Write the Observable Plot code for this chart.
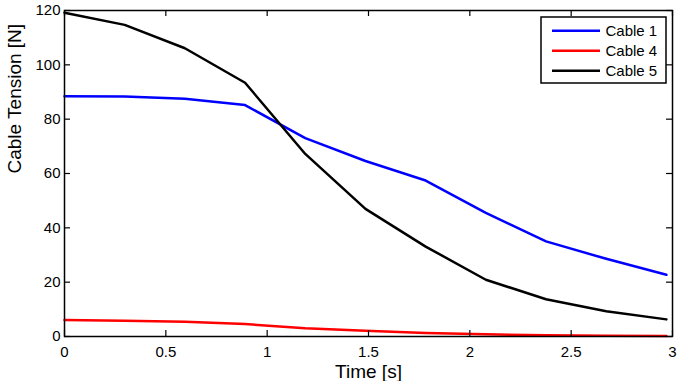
<!DOCTYPE html>
<html>
<head>
<meta charset="utf-8">
<script src="https://cdn.jsdelivr.net/npm/d3@7"></script>
<script src="https://cdn.jsdelivr.net/npm/@observablehq/plot@0.6"></script>
<style>
  html, body { margin: 0; padding: 0; background: #fff; }
  #chart { width: 681px; height: 381px; }
</style>
</head>
<body>
<div id="chart"></div>
<script>
// Sample times [s]
const time = [0, 0.297, 0.594, 0.891, 1.188, 1.485, 1.782, 2.079, 2.376, 2.673, 2.97];

// Cable tensions [N]
const cable1 = [88.4, 88.3, 87.5, 85.2, 73.0, 64.6, 57.4, 45.5, 35.0, 28.6, 22.7];
const cable4 = [6.1, 5.8, 5.4, 4.6, 3.0, 2.1, 1.3, 0.8, 0.45, 0.25, 0.15];
const cable5 = [119.2, 114.7, 106.1, 93.4, 67.2, 47.0, 33.1, 20.9, 13.7, 9.3, 6.3];

const seriesNames = ["Cable 1", "Cable 4", "Cable 5"];
const seriesColors = ["#0000ff", "#ff0000", "#000000"];
const seriesValues = [cable1, cable4, cable5];

const xTicks = [0, 0.5, 1, 1.5, 2, 2.5, 3];
const yTicks = [0, 20, 40, 60, 80, 100, 120];

const rows = seriesNames.flatMap((name, s) =>
  time.map((t, i) => ({series: name, t, v: seriesValues[s][i]}))
);

const W = 681, H = 381;
const M = {left: 64, right: 9, top: 10, bottom: 45};
const tickLen = 6;
const font = "'Liberation Sans', Arial, Helvetica, sans-serif";

const chart = Plot.plot({
  width: W,
  height: H,
  marginLeft: M.left,
  marginRight: M.right,
  marginTop: M.top,
  marginBottom: M.bottom,
  style: {fontFamily: font, fontSize: "15px", color: "#000", background: "#fff", overflow: "visible"},
  x: {domain: [0, 3], label: null},
  y: {domain: [0, 120], label: null},
  color: {domain: seriesNames, range: seriesColors},
  marks: [
    Plot.axisX(xTicks, {tickSize: 0, tickPadding: 10, fontSize: 15, tickFormat: d => String(d), label: null}),
    Plot.axisY(yTicks, {tickSize: 0, tickPadding: 4, fontSize: 15, tickFormat: d => String(d), label: null}),
    Plot.line(rows, {x: "t", y: "v", z: "series", stroke: "series", strokeWidth: 2.5, strokeLinejoin: "round"}),
    Plot.frame({stroke: "#000", strokeWidth: 1.5}),
    // inward ticks on all four sides
    Plot.ruleX(xTicks, {x: d => d, y1: 0, y2: 0, insetTop: -tickLen, stroke: "#000", strokeWidth: 1.2}),
    Plot.ruleX(xTicks, {x: d => d, y1: 120, y2: 120, insetBottom: -tickLen, stroke: "#000", strokeWidth: 1.2}),
    Plot.ruleY(yTicks, {y: d => d, x1: 0, x2: 0, insetRight: -tickLen, stroke: "#000", strokeWidth: 1.2}),
    Plot.ruleY(yTicks, {y: d => d, x1: 3, x2: 3, insetLeft: -tickLen, stroke: "#000", strokeWidth: 1.2}),
    // axis titles
    Plot.text(["Time [s]"], {frameAnchor: "bottom", dy: 35, fontSize: 19, lineAnchor: "middle", fill: "#000"}),
    Plot.text(["Cable Tension [N]"], {frameAnchor: "left", dx: -50, rotate: -90, fontSize: 19, lineAnchor: "middle", fill: "#000"})
  ]
});

document.getElementById("chart").appendChild(chart);

// Legend box in the upper right corner of the axes
const svg = d3.select(chart);
const boxW = 125, boxH = 66;
const boxX = W - M.right - 6 - boxW;
const boxY = M.top + 7;
const legend = svg.append("g")
  .attr("font-family", font)
  .attr("font-size", 15)
  .attr("text-anchor", "start");
legend.append("rect")
  .attr("x", boxX).attr("y", boxY)
  .attr("width", boxW).attr("height", boxH)
  .attr("fill", "#fff").attr("stroke", "#000").attr("stroke-width", 1.5);
seriesNames.forEach((name, i) => {
  const cy = boxY + 13.7 + i * 20;
  legend.append("line")
    .attr("x1", boxX + 11).attr("x2", boxX + 59)
    .attr("y1", cy).attr("y2", cy)
    .attr("stroke", seriesColors[i]).attr("stroke-width", 2.5);
  legend.append("text")
    .attr("x", boxX + 64.5).attr("y", cy)
    .attr("dy", "0.36em")
    .attr("text-anchor", "start")
    .attr("fill", "#000")
    .text(name);
});
</script>
</body>
</html>
